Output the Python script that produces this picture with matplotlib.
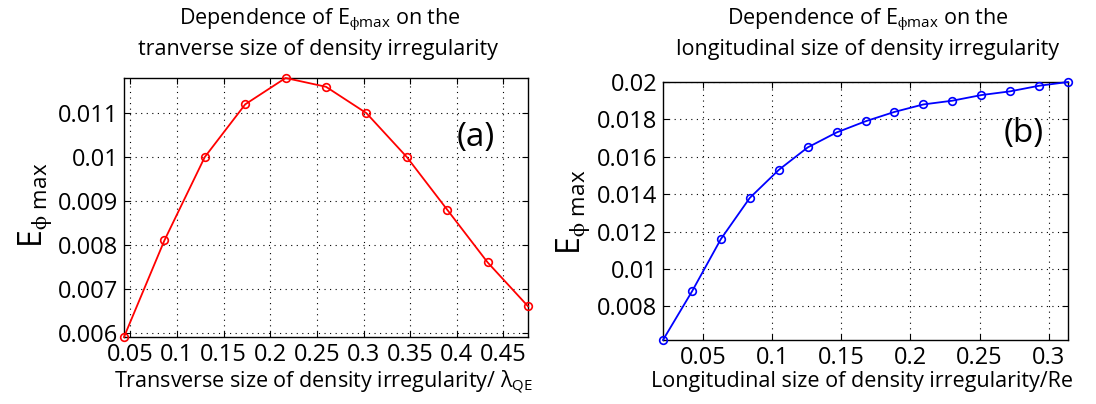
import matplotlib
matplotlib.use("Agg")
import matplotlib.pyplot as plt
import numpy as np

plt.rcParams['font.family'] = ['Open Sans', 'DejaVu Sans']
plt.rcParams['mathtext.fontset'] = 'custom'
plt.rcParams['mathtext.rm'] = 'Open Sans'
plt.rcParams['mathtext.it'] = 'Open Sans'

# Panel (a)
xa = [0.0433, 0.0866, 0.1299, 0.1732, 0.2165, 0.2598, 0.3031, 0.3464, 0.3897, 0.4330, 0.4763]
ya = [0.0059, 0.0081, 0.0100, 0.0112, 0.0118, 0.0116, 0.0110, 0.0100, 0.0088, 0.0076, 0.0066]
xa_ticks = [0.05, 0.1, 0.15, 0.2, 0.25, 0.3, 0.35, 0.4, 0.45]
xa_labels = ['0.05', '0.1', '0.15', '0.2', '0.25', '0.3', '0.35', '0.4', '0.45']
ya_ticks = [0.006, 0.007, 0.008, 0.009, 0.010, 0.011]
ya_labels = ['0.006', '0.007', '0.008', '0.009', '0.01', '0.011']

# Panel (b)
xb = [0.0209, 0.0419, 0.0628, 0.0837, 0.1047, 0.1256, 0.1465, 0.1675, 0.1884, 0.2093,
      0.2303, 0.2512, 0.2721, 0.2931, 0.3140]
yb = [0.0062, 0.0088, 0.0116, 0.0138, 0.0153, 0.0165, 0.0173, 0.0179, 0.0184, 0.0188,
      0.0190, 0.0193, 0.0195, 0.0198, 0.0200]
xb_ticks = [0.05, 0.1, 0.15, 0.2, 0.25, 0.3]
xb_labels = ['0.05', '0.1', '0.15', '0.2', '0.25', '0.3']
yb_ticks = [0.008, 0.010, 0.012, 0.014, 0.016, 0.018, 0.020]
yb_labels = ['0.008', '0.01', '0.012', '0.014', '0.016', '0.018', '0.02']

W, H = 1096, 404
fig = plt.figure(figsize=(W / 100, H / 100), dpi=100)

def px_axes(x0, y0, x1, y1):
    return fig.add_axes([x0 / W, 1 - y1 / H, (x1 - x0) / W, (y1 - y0) / H])

axa = px_axes(124, 78, 528, 337)
axb = px_axes(663, 82, 1068, 340)

def style(ax, x, y, color, xt, xl, yt, yl):
    ax.plot(x, y, '-o', color=color, lw=1.3, ms=5.5, mfc='none', mec=color, mew=1.2,
            clip_on=False, zorder=3)
    ax.set_xlim(x[0], x[-1])
    ax.set_xticks(xt)
    ax.set_xticklabels(xl)
    ax.set_yticks(yt)
    ax.set_yticklabels(yl)
    ax.tick_params(direction='in', top=True, right=True, length=4, width=0.8,
                   labelsize=17, pad=4, colors='black')
    ax.grid(True, linestyle=(0, (1, 4)), color='black', lw=0.8)
    for s in ax.spines.values():
        s.set_linewidth(1.0)
        s.set_color('black')

style(axa, xa, ya, '#ff0000', xa_ticks, xa_labels, ya_ticks, ya_labels)
style(axb, xb, yb, '#0000ff', xb_ticks, xb_labels, yb_ticks, yb_labels)
axa.set_ylim(0.0059, 0.0118)
axb.set_ylim(0.0062, 0.0200)

ylab = r'E$_{\mathregular{\phi\ max}}$'
fig.text(36 / W, 1 - 205 / H, ylab, rotation=90, ha='center', va='center', fontsize=23)
fig.text(574 / W, 1 - 212 / H, ylab, rotation=90, ha='center', va='center', fontsize=23)

fig.text(324 / W, 1 - 382 / H,
         r'Transverse size of density irregularity/ $\mathregular{\lambda_{QE}}$',
         ha='center', va='center', fontsize=15.5)
fig.text(862 / W, 1 - 382 / H, 'Longitudinal size of density irregularity/Re',
         ha='center', va='center', fontsize=15.5)

t1 = r'Dependence of E$_{\mathregular{\phi max}}$ on the'
fig.text(320 / W, 1 - 20 / H, t1, ha='center', va='center', fontsize=15.5)
fig.text(318 / W, 1 - 50 / H, 'tranverse size of density irregularity',
         ha='center', va='center', fontsize=15.5)
fig.text(868 / W, 1 - 20 / H, t1, ha='center', va='center', fontsize=15.5)
fig.text(867 / W, 1 - 50 / H, 'longitudinal size of density irregularity',
         ha='center', va='center', fontsize=15.5)

axa.text(0.87, 0.77, '(a)', transform=axa.transAxes, ha='center', va='center', fontsize=24)
axb.text(0.89, 0.80, '(b)', transform=axb.transAxes, ha='center', va='center', fontsize=24)

fig.savefig('out.png', dpi=100)
